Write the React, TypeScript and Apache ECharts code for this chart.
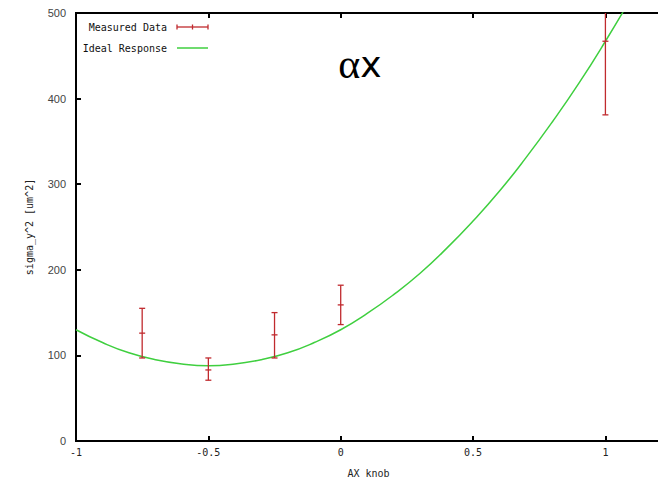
import React, { useEffect, useRef } from "react";
import * as echarts from "echarts";

const measuredX = [-0.75, -0.5, -0.25, 0, 1];
const measuredY = [126, 83, 124, 159, 467];
const errLow = [97, 71, 97, 136, 381];
const errHigh = [155, 97, 150, 182, 552];

const idealX = [-1, -0.9, -0.8, -0.7, -0.6, -0.5, -0.4, -0.3, -0.2, -0.1, 0, 0.1, 0.2, 0.3, 0.4, 0.5, 0.6, 0.7, 0.8, 0.9, 1.0, 1.1];
const idealY = [130, 115, 103, 95, 90, 88, 90, 95, 103, 115, 130, 149, 171, 196, 225, 257, 292, 331, 373, 418, 467, 519];

const xTicks = [-1, -0.5, 0, 0.5, 1];

const RED = "#c02a2e";
const GREEN = "#3fcf3f";

export default function App() {
  const ref = useRef<HTMLDivElement>(null);
  useEffect(() => {
    if (!ref.current) return;
    const chart = echarts.init(ref.current, null, { renderer: "svg" });
    const errData = measuredX.map((x, i) => [x, errLow[i], errHigh[i], measuredY[i]]);
    const idealData = idealX.map((x, i) => [x, idealY[i]]);
    const tickStyle = { show: true, inside: true, length: 5, lineStyle: { color: "#000", width: 2 } };
    chart.setOption({
      animation: false,
      backgroundColor: "#fff",
      grid: {
        left: 76,
        top: 13,
        right: 0,
        bottom: 43,
        show: true,
        borderColor: "#000",
        borderWidth: 2,
        backgroundColor: "transparent",
      },
      xAxis: [
        {
          type: "value",
          min: -1,
          max: 1.21,
          interval: 0.5,
          name: "AX knob",
          nameLocation: "middle",
          nameGap: 27,
          nameTextStyle: { fontFamily: "DejaVu Sans Mono", fontSize: 10, color: "#222" },
          axisLine: { show: true, onZero: false, lineStyle: { color: "#000", width: 2 } },
          axisTick: tickStyle,
          splitLine: { show: false },
          axisLabel: {
            showMaxLabel: false,
            margin: 6,
            fontFamily: "DejaVu Sans Mono",
            fontSize: 10,
            color: "#222",
            formatter: (v: number) => (xTicks.some((t) => Math.abs(t - v) < 1e-9) ? String(v) : ""),
          },
        },
        {
          type: "value",
          position: "top",
          min: -1,
          max: 1.21,
          interval: 0.5,
          axisLine: { show: true, onZero: false, lineStyle: { color: "#000", width: 2 } },
          axisTick: tickStyle,
          axisLabel: { show: false },
          splitLine: { show: false },
        },
      ],
      yAxis: {
        type: "value",
        min: 0,
        max: 500,
        interval: 100,
        name: "sigma_y^2 [um^2]",
        nameLocation: "middle",
        nameGap: 42,
        nameTextStyle: { fontFamily: "DejaVu Sans Mono", fontSize: 10, color: "#222" },
        axisLine: { show: true, onZero: false, lineStyle: { color: "#000", width: 2 } },
        axisTick: tickStyle,
        splitLine: { show: false },
        axisLabel: { margin: 10, fontFamily: "Liberation Sans", fontSize: 11, color: "#444" },
      },
      series: [
        {
          type: "line",
          name: "Ideal Response",
          data: idealData,
          smooth: true,
          showSymbol: false,
          clip: true,
          lineStyle: { color: GREEN, width: 1.5 },
          z: 2,
        },
        {
          type: "custom",
          name: "Measured Data",
          data: errData,
          clip: true,
          z: 3,
          renderItem: (params: any, api: any) => {
            const x = api.value(0);
            const pLo = api.coord([x, api.value(1)]);
            const pHi = api.coord([x, api.value(2)]);
            const pC = api.coord([x, api.value(3)]);
            const w = 3;
            const st = { stroke: RED, lineWidth: 1.3 };
            return {
              type: "group",
              children: [
                { type: "line", shape: { x1: pLo[0], y1: pLo[1], x2: pHi[0], y2: pHi[1] }, style: st },
                { type: "line", shape: { x1: pLo[0] - w, y1: pLo[1], x2: pLo[0] + w, y2: pLo[1] }, style: st },
                { type: "line", shape: { x1: pHi[0] - w, y1: pHi[1], x2: pHi[0] + w, y2: pHi[1] }, style: st },
                { type: "line", shape: { x1: pC[0] - w, y1: pC[1], x2: pC[0] + w, y2: pC[1] }, style: st },
              ],
            };
          },
        },
      ],
      graphic: [
        {
          type: "text",
          x: 167,
          y: 27,
          style: {
            text: "Measured Data",
            fontFamily: "DejaVu Sans Mono",
            fontSize: 10,
            fill: "#111",
            align: "right",
            verticalAlign: "middle",
          },
        },
        {
          type: "text",
          x: 167,
          y: 48,
          style: {
            text: "Ideal Response",
            fontFamily: "DejaVu Sans Mono",
            fontSize: 10,
            fill: "#111",
            align: "right",
            verticalAlign: "middle",
          },
        },
        { type: "line", shape: { x1: 177, y1: 27, x2: 208, y2: 27 }, style: { stroke: RED, lineWidth: 1.3 } },
        { type: "line", shape: { x1: 177, y1: 24.5, x2: 177, y2: 29.5 }, style: { stroke: RED, lineWidth: 1.3 } },
        { type: "line", shape: { x1: 192.5, y1: 24.5, x2: 192.5, y2: 29.5 }, style: { stroke: RED, lineWidth: 1.3 } },
        { type: "line", shape: { x1: 208, y1: 24.5, x2: 208, y2: 29.5 }, style: { stroke: RED, lineWidth: 1.3 } },
        { type: "line", shape: { x1: 177, y1: 48, x2: 208, y2: 48 }, style: { stroke: GREEN, lineWidth: 1.5 } },
        {
          type: "text",
          x: 360,
          y: 64,
          style: {
            text: "{a|α}{b|x}",
            align: "center",
            verticalAlign: "middle",
            rich: {
              a: { fontFamily: "Liberation Serif", fontSize: 42, fill: "#000" },
              b: { fontFamily: "DejaVu Sans", fontSize: 36, fill: "#000" },
            },
          },
        },
      ],
    });
    return () => chart.dispose();
  }, []);
  return <div ref={ref} style={{ position: "fixed", left: 0, top: 0, width: 661, height: 484 }} />;
}
